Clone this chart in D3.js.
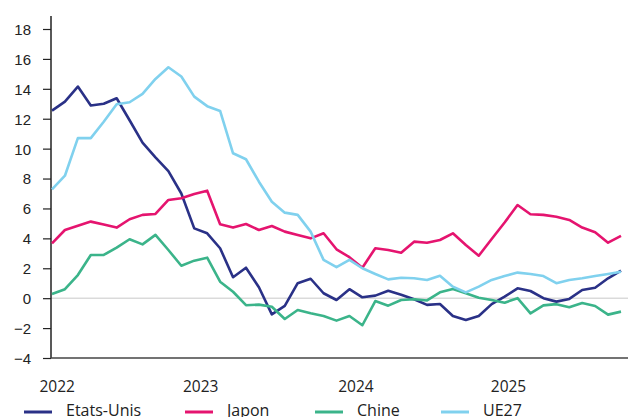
<!DOCTYPE html>
<html>
<head>
<meta charset="utf-8">
<script src="https://cdn.jsdelivr.net/npm/d3@7"></script>
<style>
  body { margin: 0; background: #fff; }
  svg { display: block; font-family: "Open Sans", "Noto Sans", sans-serif; }
</style>
</head>
<body>
<svg id="chart" width="628" height="417"></svg>
<script>
// monthly values, Jan 2022 .. Sep 2025
const usa = [12.54, 13.14, 14.15, 12.88, 13.0, 13.37, 11.9, 10.4, 9.42, 8.5, 7.0, 4.67,
  4.34, 3.34, 1.4, 2.04, 0.73, -1.08, -0.52, 1.0, 1.3, 0.33, -0.12, 0.6,
  0.06, 0.17, 0.5, 0.23, -0.07, -0.45, -0.39, -1.19, -1.46, -1.19, -0.4, 0.1,
  0.66, 0.48, 0, -0.23, -0.05, 0.55, 0.7, 1.33, 1.84];
const japon = [3.67, 4.56, 4.85, 5.12, 4.92, 4.72, 5.28, 5.57, 5.63, 6.57, 6.68, 6.97,
  7.19, 4.94, 4.72, 4.96, 4.56, 4.83, 4.45, 4.23, 4.0, 4.34, 3.27, 2.74,
  2.04, 3.34, 3.22, 3.04, 3.78, 3.71, 3.89, 4.34, 3.56, 2.84, 3.96, 5.06,
  6.23, 5.61, 5.57, 5.45, 5.23, 4.72, 4.41, 3.71, 4.16];
const chine = [0.28, 0.6, 1.55, 2.89, 2.89, 3.38, 3.94, 3.6, 4.23, 3.22, 2.17, 2.51,
  2.71, 1.1, 0.43, -0.47, -0.43, -0.57, -1.39, -0.79, -1.01, -1.19, -1.5, -1.19,
  -1.81, -0.19, -0.5, -0.12, -0.07, -0.15, 0.39, 0.61, 0.33, 0.03, -0.12, -0.3,
  0, -1.01, -0.48, -0.4, -0.6, -0.32, -0.52, -1.1, -0.9];
const ue27 = [7.28, 8.19, 10.7, 10.7, 11.8, 12.97, 13.1, 13.66, 14.66, 15.44, 14.82, 13.48,
  12.84, 12.52, 9.69, 9.29, 7.79, 6.45, 5.72, 5.57, 4.45, 2.56, 2.07, 2.56,
  2.0, 1.62, 1.26, 1.37, 1.33, 1.22, 1.5, 0.77, 0.39, 0.77, 1.22, 1.48,
  1.71, 1.62, 1.48, 1.0, 1.22, 1.33, 1.48, 1.62, 1.77];

const seriesNames = ["Etats-Unis", "Japon", "Chine", "UE27"];
const seriesColors = ["#2a3187", "#e5146f", "#3bb48a", "#80d1ee"];
const yTicks = [-4, -2, 0, 2, 4, 6, 8, 10, 12, 14, 16, 18];
const xLabels = ["2022", "2023", "2024", "2025"];
const xLabelMonth = [0.4, 11.5, 23.5, 35.3];

let svg = d3.select("#chart");
let allSeries = [usa, japon, chine, ue27];

let xScale = d3.scaleLinear()
    .domain([0, usa.length - 1])
    .range([52, 621]);

let yScale = d3.scaleLinear()
    .domain([-4, 18])
    .range([358, 29]);

// zero line
svg.append("line")
    .attr("x1", 51).attr("x2", 628)
    .attr("y1", yScale(0)).attr("y2", yScale(0))
    .attr("stroke", "#c8c8c8")
    .attr("stroke-width", 1);

// y axis
let yAxis = d3.axisLeft(yScale)
    .tickValues(yTicks)
    .tickSize(8)
    .tickPadding(12);

let yG = svg.append("g")
    .attr("transform", "translate(51,0)")
    .call(yAxis);
yG.select(".domain").attr("d", "M0,16V358").attr("stroke", "#222").attr("stroke-width", 1.5);
yG.selectAll(".tick line").attr("stroke", "#222").attr("stroke-width", 1.2);
yG.selectAll("text")
    .attr("fill", "#222")
    .style("font-size", "15px")
    .attr("dy", "0.36em");

// x axis line
svg.append("line")
    .attr("x1", 51).attr("x2", 628)
    .attr("y1", 358).attr("y2", 358)
    .attr("stroke", "#444")
    .attr("stroke-width", 1.5);

svg.append("g")
    .selectAll("text")
    .data(xLabels)
    .enter()
    .append("text")
    .attr("x", (d, i) => xScale(xLabelMonth[i]))
    .attr("y", 392)
    .attr("text-anchor", "middle")
    .attr("fill", "#222")
    .style("font-size", "15.5px")
    .text(d => d);

// lines
let line = d3.line()
    .x((d, i) => xScale(i))
    .y(d => yScale(d));

svg.append("g")
    .selectAll("path")
    .data(allSeries)
    .enter()
    .append("path")
    .attr("d", d => line(d))
    .attr("fill", "none")
    .attr("stroke", (d, i) => seriesColors[i])
    .attr("stroke-width", 2.6)
    .attr("stroke-linejoin", "round");

// legend
const legendX = [24, 185, 315, 441];
let legend = svg.append("g")
    .selectAll("g")
    .data(seriesNames)
    .enter()
    .append("g")
    .attr("transform", (d, i) => `translate(${legendX[i]},412)`);

legend.append("line")
    .attr("x1", 0).attr("x2", 28)
    .attr("stroke", (d, i) => seriesColors[i])
    .attr("stroke-width", 3);

legend.append("text")
    .attr("x", 42)
    .attr("y", 4)
    .attr("fill", "#222")
    .style("font-size", "16px")
    .text(d => d);
</script>
</body>
</html>
